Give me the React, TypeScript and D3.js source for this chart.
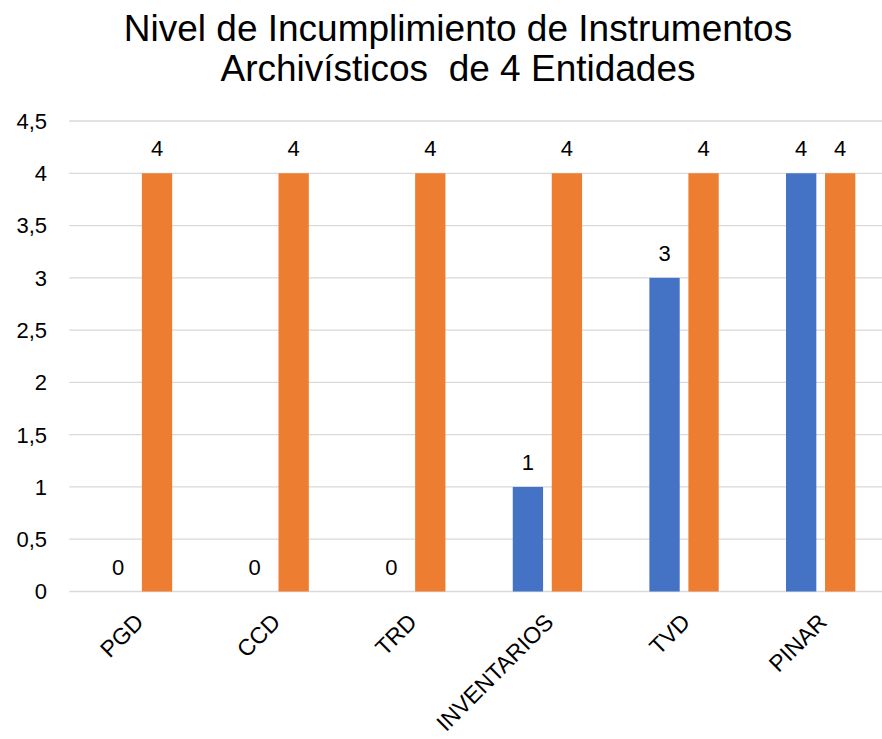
import * as d3 from "d3";

const categories = ["PGD", "CCD", "TRD", "INVENTARIOS", "TVD", "PINAR"];
const seriesNames = ["Incumplen", "Total"];
const incumplen = [0, 0, 0, 1, 3, 4];
const total = [4, 4, 4, 4, 4, 4];
const yTicks = [0, 0.5, 1, 1.5, 2, 2.5, 3, 3.5, 4, 4.5];
const titleLines = ["Nivel de Incumplimiento de Instrumentos", "Archivísticos  de 4 Entidades"];

const colors = ["#4472C4", "#ED7D31"];

export default function App() {
  const width = 882;
  const height = 739;
  const plotLeft = 69.2;
  const plotRight = 889;
  const yTop = 121;
  const yBottom = 591.5;
  const font = "'Liberation Sans', Arial, sans-serif";

  const x0 = d3
    .scaleBand<string>()
    .domain(categories)
    .range([plotLeft, plotRight])
    .paddingInner(0.4927)
    .paddingOuter(0.2464);

  const x1 = d3
    .scaleBand<string>()
    .domain(seriesNames)
    .range([0, x0.bandwidth()])
    .paddingInner(0.223);

  const y = d3.scaleLinear().domain([0, 4.5]).range([yBottom, yTop]);

  const values = [incumplen, total];
  const fmt = (v: number) => String(v).replace(".", ",");

  return (
    <svg
      width={width}
      height={height}
      style={{ position: "absolute", left: 0, top: 0, background: "#fff" }}
      fontFamily={font}
    >
      <rect width={width} height={height} fill="#fff" />
      {/* title */}
      {titleLines.map((t, i) => (
        <text
          key={t}
          x={458}
          y={41 + i * 40}
          textAnchor="middle"
          fontSize={37}
          fill="#000"
          style={{ whiteSpace: "pre" }}
        >
          {t}
        </text>
      ))}

      {/* grid + y ticks */}
      {yTicks.map((t) => (
        <g key={t}>
          <line x1={plotLeft} x2={plotRight} y1={y(t)} y2={y(t)} stroke="#d9d9d9" strokeWidth={1.3} />
          <text x={47} y={y(t)} dy="0.36em" textAnchor="end" fontSize={22} fill="#000">
            {fmt(t)}
          </text>
        </g>
      ))}

      {/* bars */}
      {categories.map((c, ci) => (
        <g key={c} transform={`translate(${x0(c)},0)`}>
          {seriesNames.map((s, si) => {
            const v = values[si][ci];
            return (
              <g key={s}>
                <rect
                  x={x1(s)}
                  y={y(v)}
                  width={x1.bandwidth()}
                  height={y(0) - y(v)}
                  fill={colors[si]}
                />
                <text
                  x={(x1(s) ?? 0) + x1.bandwidth() / 2}
                  y={y(v) - 17}
                  textAnchor="middle"
                  fontSize={22}
                  fill="#000"
                >
                  {v}
                </text>
              </g>
            );
          })}
        </g>
      ))}

      {/* x labels */}
      {categories.map((c) => {
        const cx = (x0(c) ?? 0) + x0.bandwidth() / 2;
        return (
          <text
            key={c}
            transform={`translate(${cx - 4},${612}) rotate(-45)`}
            textAnchor="end"
            dy="0.71em"
            fontSize={23}
            fill="#000"
          >
            {c}
          </text>
        );
      })}
    </svg>
  );
}
